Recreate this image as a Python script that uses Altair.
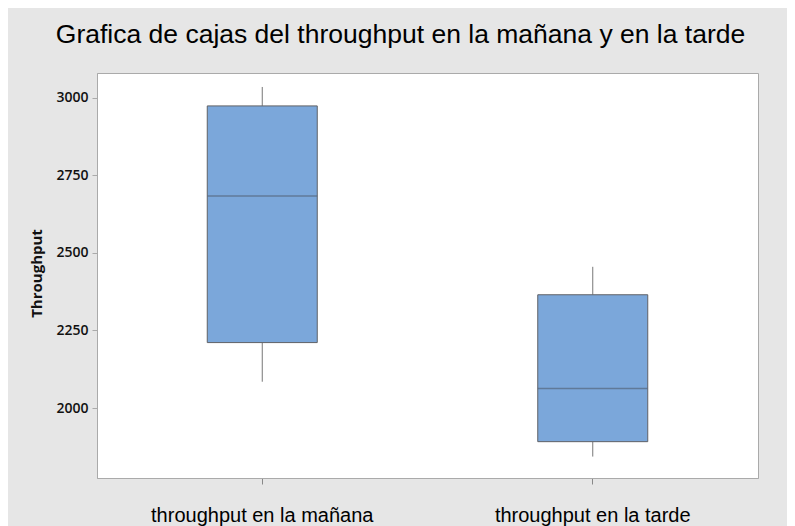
import altair as alt
import pandas as pd

categories = ["throughput en la mañana", "throughput en la tarde"]
whisker_low = [2085, 1844]
q1 = [2211, 1892]
median = [2683, 2063]
q3 = [2973, 2365]
whisker_high = [3034, 2455]
y_ticks = [2000, 2250, 2500, 2750, 3000]

df = pd.DataFrame({
    "cat": categories,
    "low": whisker_low,
    "q1": q1,
    "median": median,
    "q3": q3,
    "high": whisker_high,
})

x_enc = alt.X(
    "cat:N",
    sort=categories,
    title=None,
    scale=alt.Scale(paddingInner=0, paddingOuter=0),
    axis=alt.Axis(
        labelAngle=0, labelFont="Liberation Sans", labelFontSize=20,
        labelColor="black", labelPadding=21, labelLimit=0, tickSize=6,
        tickColor="#888", domainColor="#aaa",
    ),
)
y_scale = alt.Scale(domain=[1775, 3079], nice=False, zero=False)
y_axis = alt.Axis(
    values=y_ticks, format="d", grid=False, labelFont="Open Sans",
    labelFontWeight=600, labelFontSize=14, labelColor="#111", tickSize=5,
    tickColor="#aaa", labelPadding=4, domainColor="#aaa",
    title="Throughput", titleFont="Open Sans", titleFontWeight="bold",
    titleFontSize=15, titleColor="#111", titleX=-61, titleY=200,
    titleAngle=270, titleAlign="center", titleBaseline="middle",
)

base = alt.Chart(df)

whisk_hi = base.mark_rule(color="#777", strokeWidth=1).encode(
    x=x_enc,
    y=alt.Y("q3:Q", scale=y_scale, axis=y_axis),
    y2="high:Q",
)
whisk_lo = base.mark_rule(color="#777", strokeWidth=1).encode(
    x=x_enc,
    y=alt.Y("low:Q", scale=y_scale, axis=y_axis),
    y2="q1:Q",
)
box = base.mark_bar(size=110, fill="#7ba7da", stroke="#5f6166", strokeWidth=1).encode(
    x=x_enc,
    y=alt.Y("q1:Q", scale=y_scale, axis=y_axis),
    y2="q3:Q",
)
med = base.mark_tick(size=110, thickness=1.5, color="#55677d").encode(
    x=x_enc,
    y=alt.Y("median:Q", scale=y_scale, axis=y_axis),
)

chart = (
    alt.layer(whisk_hi, whisk_lo, box, med)
    .properties(
        width=661,
        height=405,
        autosize="none",
        padding={"left": 89, "top": 65, "right": 29, "bottom": 48},
        background="#e6e6e6",
        title=alt.TitleParams(
            "Grafica de cajas del throughput en la mañana y en la tarde",
            font="Liberation Sans", fontSize=26.5, fontWeight="normal",
            color="black", anchor="middle", frame="group", dx=-27, offset=25,
        ),
    )
    .configure_view(fill="white", stroke="#aaa", strokeWidth=1)
)

chart.save("out.html", embed_options={"renderer": "svg", "actions": False})
